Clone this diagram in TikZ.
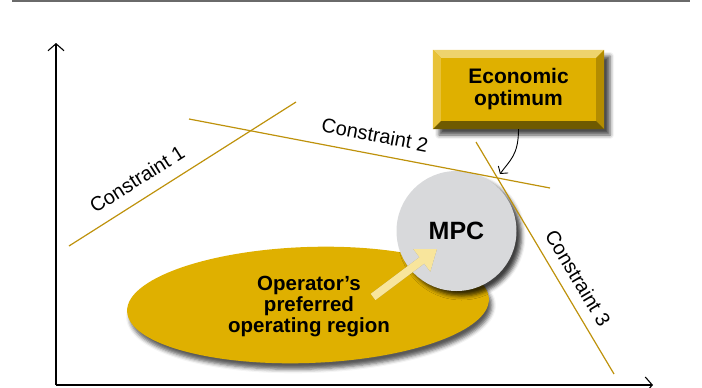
\documentclass[tikz,border=0pt]{standalone}
\usepackage{fontspec}
\setmainfont{Liberation Sans}
\usetikzlibrary{arrows.meta,shapes.geometric,shadows.blur}
\definecolor{gold}{HTML}{DFB000}
\definecolor{bevtop}{HTML}{EED36C}
\definecolor{bevleft}{HTML}{E8C238}
\definecolor{bevright}{HTML}{B38C00}
\definecolor{bevbottom}{HTML}{6F5A00}
\definecolor{mpcgray}{HTML}{D8D9DB}
\definecolor{paleyellow}{HTML}{F8E59C}
\definecolor{cline}{HTML}{BE920C}
\definecolor{rulegray}{HTML}{6A6A6A}
\tikzset{
  axis/.style={line width=1.1pt, -{Straight Barb[length=7pt,width=16pt]}},
  cons/.style={cline, line width=1.2pt},
  conslabel/.style={font=\fontsize{20}{20}\selectfont, inner sep=0pt},
  boldtext/.style={font=\bfseries},
}
\begin{document}
\begin{tikzpicture}[x=1pt,y=-1pt]
\useasboundingbox (0,0) rectangle (702,388);
% top rule
\coordinate (r1) at (12,1.2);
\coordinate (r2) at (690,1.2);
\draw[rulegray, line width=2pt] (r1) -- (r2);
% axes
\coordinate (o) at (56,385);
\coordinate (ytip) at (56,43);
\coordinate (xtip) at (653,385);
\draw[axis] (o) -- (ytip);
\draw[axis] (o) -- (xtip);
% operating region
\node[ellipse, minimum width=362pt, minimum height=116pt, inner sep=0pt, fill=gold, rotate=2,
  blur shadow={shadow xshift=3pt, shadow yshift=-6pt, shadow blur radius=4pt, shadow opacity=65}]
  (region) at (308,305) {};
% MPC circle
\node[circle, minimum size=120pt, inner sep=0pt, fill=mpcgray,
  blur shadow={shadow xshift=5pt, shadow yshift=-5pt, shadow blur radius=4pt, shadow opacity=75},
  font=\fontsize{25}{25}\selectfont\bfseries] (mpc) at (456.5,231) {MPC};
% constraint lines
\coordinate (c1a) at (69,246);
\coordinate (c1b) at (296,102);
\coordinate (c2a) at (189,119);
\coordinate (c2b) at (550,188);
\coordinate (c3a) at (476,142);
\coordinate (c3b) at (614,374);
\draw[cons] (c1a) -- (c1b);
\draw[cons] (c2a) -- (c2b);
\draw[cons] (c3a) -- (c3b);
\node[conslabel, rotate=32.4] (l1) at (137,179) {Constraint 1};
\node[conslabel, rotate=-10.8] (l2) at (375,135) {Constraint 2};
\node[conslabel, rotate=-59.2] (l3) at (578,278) {Constraint 3};
% yellow arrow
\coordinate (ya) at (373,297);
\coordinate (yb) at (437,249);
\draw[black, opacity=0.3, line width=8pt, -{Triangle[length=19pt,width=27pt]}, shift={(2.5,2.5)}] (ya) -- (yb);
\draw[paleyellow, line width=8pt, -{Triangle[length=19pt,width=27pt]}] (ya) -- (yb);
% region text
\node[align=center, font=\fontsize{20.5}{21}\selectfont\bfseries, inner sep=0pt] (regtext) at (309,306.5)
  {Operator's\\preferred\\operating region};
% economic optimum box
\node[minimum width=171pt, minimum height=79pt, inner sep=0pt, fill=gold,
  blur shadow={shadow xshift=6pt, shadow yshift=-6pt, shadow blur radius=4pt, shadow opacity=70}]
  (econ) at (518.5,89.5) {};
\fill[bevtop] (econ.north west) -- (econ.north east) -- ([shift={(-8,8)}]econ.north east) -- ([shift={(8,8)}]econ.north west) -- cycle;
\fill[bevleft] (econ.north west) -- (econ.south west) -- ([shift={(8,-8)}]econ.south west) -- ([shift={(8,8)}]econ.north west) -- cycle;
\fill[bevright] (econ.north east) -- (econ.south east) -- ([shift={(-8,-8)}]econ.south east) -- ([shift={(-8,8)}]econ.north east) -- cycle;
\fill[bevbottom] (econ.south west) -- (econ.south east) -- ([shift={(-8,-8)}]econ.south east) -- ([shift={(8,-8)}]econ.south west) -- cycle;
\node[align=center, font=\fontsize{21}{22}\selectfont\bfseries, inner sep=0pt] (econtext) at (econ) {Economic\\optimum};
% arrow to the optimum
\coordinate (opt) at (500,174);
\draw[line width=0.9pt, -{Straight Barb[length=5pt,width=12pt]}] (econ.south) .. controls +(0,26) and +(10,-14) .. (opt);
\end{tikzpicture}
\end{document}
